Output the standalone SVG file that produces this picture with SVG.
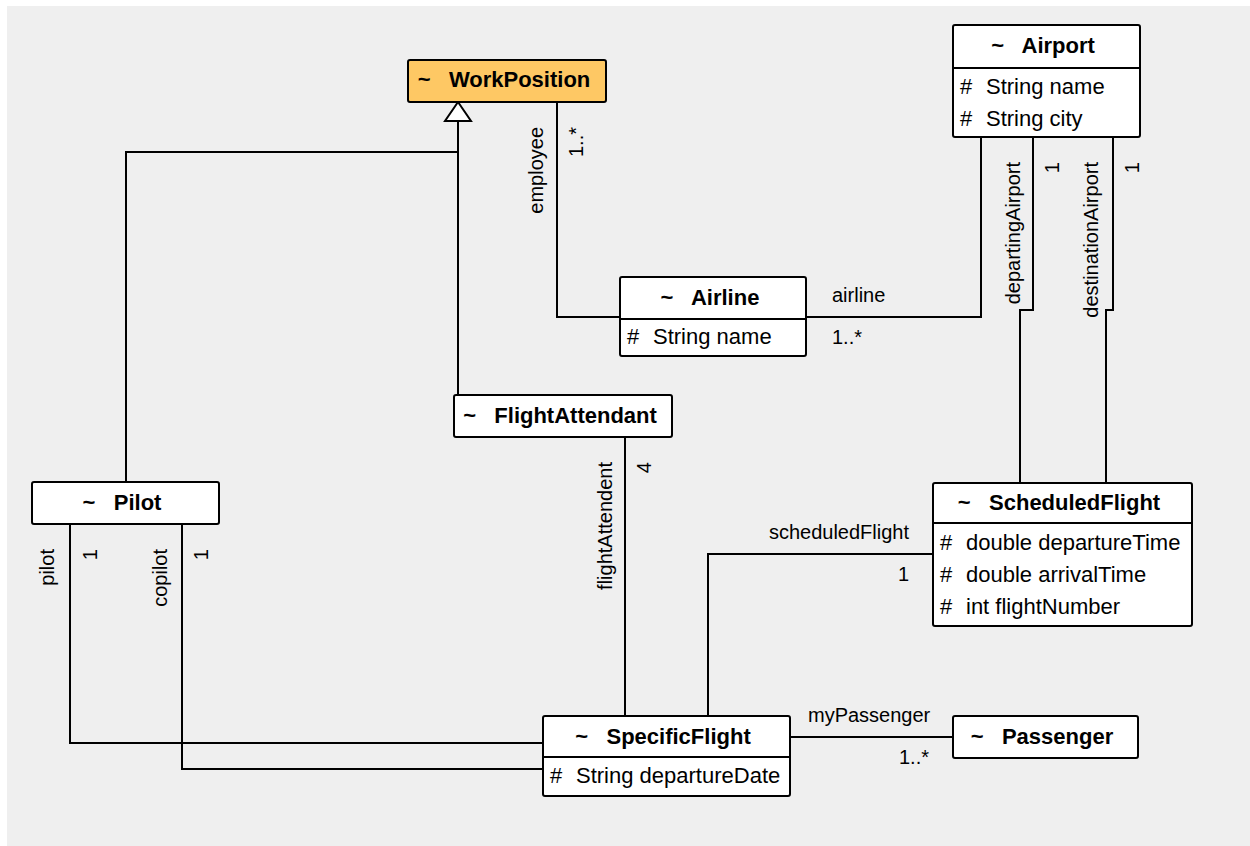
<svg xmlns="http://www.w3.org/2000/svg" width="1250" height="846" viewBox="0 0 1250 846">
<style>
text{font-family:"Liberation Sans",Arial,sans-serif;fill:#000}
.nm{font-size:22px;font-weight:bold;text-anchor:middle}
.at{font-size:22px}
.lb{font-size:20px}
.rl{font-size:20px;text-anchor:end}
.box{fill:#fff;stroke:#000;stroke-width:2}
.div{stroke:#000;stroke-width:2}
.ln{fill:none;stroke:#000;stroke-width:2}
</style>
<rect x="7" y="6" width="1243" height="840" fill="#efefef"/>
<g id="connectors">
<polyline class="ln" points="458,395 458,121"/>
<polygon points="458,102 445,121 471,121" fill="#fff" stroke="#000" stroke-width="2"/>
<polyline class="ln" points="126,482 126,152 458,152"/>
<polyline class="ln" points="557,102 557,317 620,317"/>
<polyline class="ln" points="806,317 981,317 981,137"/>
<polyline class="ln" points="1033,137 1033,310 1020,310 1020,483"/>
<polyline class="ln" points="1113,137 1113,310 1106,310 1106,483"/>
<polyline class="ln" points="625,437 625,716"/>
<polyline class="ln" points="708,716 708,554 933,554"/>
<polyline class="ln" points="70,524 70,743 543,743"/>
<polyline class="ln" points="182,524 182,769 543,769"/>
<polyline class="ln" points="790,737 953,737"/>
<text class="rl" transform="translate(543,127) rotate(-90)">employee</text>
<text class="rl" transform="translate(583,127) rotate(-90)">1..*</text>
<text class="lb" x="832" y="302">airline</text>
<text class="lb" x="832" y="344">1..*</text>
<text class="rl" transform="translate(1020,162) rotate(-90)">departingAirport</text>
<text class="rl" transform="translate(1059,162) rotate(-90)">1</text>
<text class="rl" transform="translate(1098,162) rotate(-90)">destinationAirport</text>
<text class="rl" transform="translate(1139,162) rotate(-90)">1</text>
<text class="rl" transform="translate(612,462) rotate(-90)">flightAttendent</text>
<text class="rl" transform="translate(651,462) rotate(-90)">4</text>
<text class="rl" transform="translate(54,549) rotate(-90)">pilot</text>
<text class="rl" transform="translate(97,549) rotate(-90)">1</text>
<text class="rl" transform="translate(167,549) rotate(-90)">copilot</text>
<text class="rl" transform="translate(208,549) rotate(-90)">1</text>
<text class="rl" x="909" y="539">scheduledFlight</text>
<text class="rl" x="909" y="581">1</text>
<text class="lb" x="808" y="722">myPassenger</text>
<text class="rl" x="929" y="764">1..*</text>
</g>
<g id="WorkPosition">
<rect x="408" y="60" width="198" height="42" rx="2" fill="#fec864" stroke="#000" stroke-width="2"/>
<text class="nm" x="504" y="87" xml:space="preserve">~   WorkPosition</text>
</g>
<g id="Airport">
<rect class="box" x="953" y="25" width="187" height="112" rx="2"/>
<line class="div" x1="953" y1="68" x2="1140" y2="68"/>
<text class="nm" x="1043" y="53" xml:space="preserve">~   Airport</text>
<text class="at" x="960" y="94">#</text><text class="at" x="986" y="94">String name</text>
<text class="at" x="960" y="126">#</text><text class="at" x="986" y="126">String city</text>
</g>
<g id="Airline">
<rect class="box" x="620" y="277" width="186" height="79" rx="2"/>
<line class="div" x1="620" y1="319" x2="806" y2="319"/>
<text class="nm" x="710" y="305" xml:space="preserve">~   Airline</text>
<text class="at" x="627" y="344">#</text><text class="at" x="653" y="344">String name</text>
</g>
<g id="FlightAttendant">
<rect class="box" x="454" y="395" width="218" height="42" rx="2"/>
<text class="nm" x="560" y="423" xml:space="preserve">~   FlightAttendant</text>
</g>
<g id="Pilot">
<rect class="box" x="32" y="482" width="187" height="42" rx="2"/>
<text class="nm" x="122" y="510" xml:space="preserve">~   Pilot</text>
</g>
<g id="ScheduledFlight">
<rect class="box" x="933" y="483" width="259" height="143" rx="2"/>
<line class="div" x1="933" y1="523" x2="1192" y2="523"/>
<text class="nm" x="1059" y="510" xml:space="preserve">~   ScheduledFlight</text>
<text class="at" x="940" y="550">#</text><text class="at" x="966" y="550">double departureTime</text>
<text class="at" x="940" y="582">#</text><text class="at" x="966" y="582">double arrivalTime</text>
<text class="at" x="940" y="614">#</text><text class="at" x="966" y="614">int flightNumber</text>
</g>
<g id="SpecificFlight">
<rect class="box" x="543" y="716" width="247" height="80" rx="2"/>
<line class="div" x1="543" y1="757" x2="790" y2="757"/>
<text class="nm" x="663" y="744" xml:space="preserve">~   SpecificFlight</text>
<text class="at" x="550" y="783">#</text><text class="at" x="576" y="783">String departureDate</text>
</g>
<g id="Passenger">
<rect class="box" x="953" y="716" width="185" height="42" rx="2"/>
<text class="nm" x="1042" y="744" xml:space="preserve">~   Passenger</text>
</g>
</svg>
